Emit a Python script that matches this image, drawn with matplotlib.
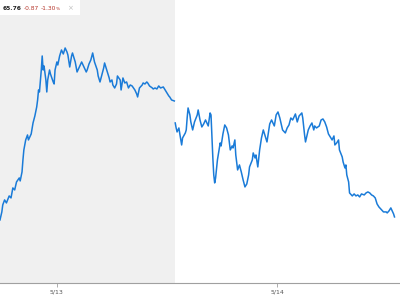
import numpy as np
import matplotlib
matplotlib.use("Agg")
import matplotlib.pyplot as plt
from matplotlib.patches import Rectangle

# hours since 5/13 00:00, price
hours_1 = [-6.2, -6.0, -5.9, -5.7, -5.5, -5.2, -5.0, -4.8, -4.6, -4.4, -4.1, -4.0, -3.8, -3.7,
           -3.6, -3.4, -3.2, -3.1, -2.8, -2.6, -2.4, -2.2, -2.1, -2.0, -1.9, -1.7, -1.6, -1.5,
           -1.4, -1.2, -1.1, -1.0, -0.8, -0.7, -0.4, -0.3, -0.2, 0.0, 0.1, 0.3, 0.5, 0.7, 0.9,
           1.1, 1.2, 1.4, 1.6, 1.7, 2.0, 2.2, 2.4, 2.6, 2.7, 2.9, 3.2, 3.3, 3.5, 3.7, 3.9, 4.1,
           4.4, 4.5, 4.7, 4.9, 5.1, 5.2, 5.5, 5.7, 5.8, 6.0, 6.1, 6.3, 6.5, 6.6, 6.9, 7.0, 7.2,
           7.4, 7.6, 7.8, 8.0, 8.2, 8.5, 8.7, 8.8, 9.0, 9.3, 9.4, 9.6, 9.8, 9.9, 10.1, 10.4,
           10.5, 10.7, 10.9, 11.1, 11.3, 11.6, 11.8, 12.0, 12.2, 12.3, 12.5, 12.8]
price_1 = [65.73, 65.81, 65.88, 65.93, 65.90, 65.97, 65.95, 66.05, 66.03, 66.11, 66.15, 66.12,
           66.21, 66.33, 66.43, 66.53, 66.58, 66.53, 66.59, 66.70, 66.77, 66.86, 66.93, 67.03,
           67.01, 67.23, 67.37, 67.23, 67.27, 67.13, 67.01, 67.13, 67.23, 67.19, 67.11, 67.09,
           67.23, 67.31, 67.28, 67.37, 67.43, 67.39, 67.45, 67.41, 67.38, 67.26, 67.37, 67.40,
           67.31, 67.21, 67.25, 67.29, 67.31, 67.27, 67.21, 67.23, 67.29, 67.33, 67.40, 67.31,
           67.23, 67.17, 67.11, 67.18, 67.25, 67.30, 67.21, 67.15, 67.11, 67.13, 67.08, 67.05,
           67.09, 67.17, 67.13, 67.03, 67.15, 67.10, 67.11, 67.05, 67.08, 67.07, 67.03, 66.99,
           66.96, 67.05, 67.08, 67.10, 67.09, 67.11, 67.10, 67.07, 67.05, 67.04, 67.05, 67.04,
           67.07, 67.05, 67.06, 67.03, 67.00, 66.97, 66.96, 66.93, 66.92]

hours_2 = [12.9, 13.0, 13.1, 13.3, 13.4, 13.6, 13.7, 14.0, 14.1, 14.2, 14.3, 14.5, 14.6, 14.8,
           15.0, 15.3, 15.4, 15.6, 15.8, 16.0, 16.2, 16.5, 16.7, 16.8, 16.9, 17.0, 17.1, 17.2,
           17.3, 17.5, 17.8, 17.9, 18.1, 18.3, 18.5, 18.7, 18.9, 19.1, 19.2, 19.4, 19.5, 19.7,
           19.9, 20.1, 20.3, 20.5, 20.7, 20.9, 21.0, 21.3, 21.4, 21.6, 21.7, 21.9, 22.1, 22.3,
           22.5, 22.7, 22.9, 23.1, 23.2, 23.4, 23.7, 23.9, 24.1, 24.3, 24.5, 24.6, 24.9, 25.1,
           25.3, 25.5, 25.7, 26.0, 26.2, 26.4, 26.7, 26.8, 27.0, 27.1, 27.4, 27.6, 27.8, 28.0,
           28.1, 28.3, 28.6, 28.8, 29.0, 29.2, 29.4, 29.6, 29.8, 30.0, 30.2, 30.3, 30.5, 30.7,
           30.8, 31.1, 31.2, 31.4, 31.5, 31.6, 31.8, 31.9, 32.2, 32.4, 32.6, 32.8, 33.0, 33.2,
           33.5, 33.7, 33.9, 34.1, 34.3, 34.5, 34.7, 34.9, 35.1, 35.2, 35.4, 35.6, 35.9, 36.0,
           36.2, 36.4, 36.5, 36.7, 36.8]
price_2 = [66.70, 66.65, 66.61, 66.65, 66.59, 66.48, 66.55, 66.60, 66.63, 66.75, 66.85, 66.78,
           66.71, 66.63, 66.71, 66.78, 66.83, 66.73, 66.66, 66.69, 66.73, 66.67, 66.80, 66.78,
           66.56, 66.35, 66.18, 66.10, 66.15, 66.33, 66.50, 66.47, 66.59, 66.68, 66.65, 66.58,
           66.43, 66.47, 66.45, 66.53, 66.38, 66.23, 66.28, 66.21, 66.13, 66.06, 66.09, 66.18,
           66.26, 66.33, 66.40, 66.35, 66.38, 66.26, 66.43, 66.55, 66.63, 66.57, 66.51, 66.63,
           66.69, 66.73, 66.67, 66.78, 66.81, 66.75, 66.67, 66.63, 66.60, 66.65, 66.68, 66.75,
           66.73, 66.79, 66.71, 66.77, 66.80, 66.75, 66.58, 66.51, 66.63, 66.67, 66.70, 66.63,
           66.67, 66.65, 66.67, 66.73, 66.74, 66.71, 66.66, 66.59, 66.56, 66.53, 66.57, 66.48,
           66.50, 66.53, 66.43, 66.36, 66.31, 66.25, 66.28, 66.18, 66.11, 66.00, 65.97, 65.99,
           65.97, 65.98, 65.96, 65.99, 65.98, 66.00, 66.01, 66.00, 65.98, 65.97, 65.95, 65.89,
           65.86, 65.85, 65.83, 65.81, 65.81, 65.80, 65.82, 65.85, 65.83, 65.79, 65.76]

tick_pos = [0, 24]
tick_labels = ['5/13', '5/14']
prev_session_end = 12.85

line_color = '#1a7bd8'

fig = plt.figure(figsize=(4, 3), dpi=100)
ax = fig.add_axes([0, 0.057, 1, 0.943])
ax.set_xlim(-6.2, 37.4)
ax.set_ylim(65.10, 67.93)

ax.axvspan(-6.2, prev_session_end, color='#f0f0f0', lw=0, zorder=0)
ax.plot(hours_1, price_1, color=line_color, lw=1.1, zorder=2)
ax.plot(hours_2, price_2, color=line_color, lw=1.1, zorder=2)

for s in ['top', 'left', 'right']:
    ax.spines[s].set_visible(False)
ax.spines['bottom'].set_color('#a0a0a0')
ax.spines['bottom'].set_linewidth(0.8)
ax.set_yticks([])
ax.set_xticks(tick_pos)
ax.set_xticklabels(tick_labels, fontsize=4.5, color='#555555')
ax.tick_params(axis='x', length=3, width=0.6, color='#a0a0a0', pad=2)

# header box
fig.patches.append(Rectangle((0, 1 - 15 / 300), 80 / 400, 15 / 300, transform=fig.transFigure,
                             facecolor='white', edgecolor='none', zorder=5))
y_txt = 1 - 8 / 300
fig.text(3 / 400, y_txt, '65.76', fontsize=4.3, color='#222222', fontweight='bold', va='center', zorder=6)
fig.text(24 / 400, y_txt, '-0.87', fontsize=4.3, color='#b5352a', va='center', zorder=6)
fig.text(41 / 400, y_txt, '-1.30', fontsize=4.3, color='#b5352a', va='center', zorder=6)
fig.text(55.5 / 400, y_txt - 0.5 / 300, '%', fontsize=3.2, color='#b5352a', va='center', zorder=6)
fig.text(67 / 400, y_txt, '×', fontsize=5, color='#c0c0c0', va='center', zorder=6)

fig.savefig('out.png', dpi=100)
